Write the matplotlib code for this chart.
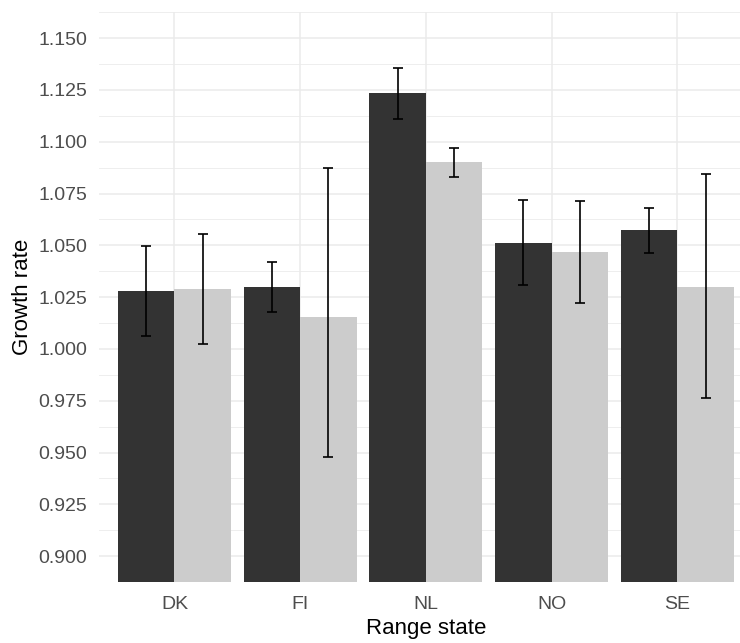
import numpy as np
import matplotlib
matplotlib.use("Agg")
import matplotlib.pyplot as plt
from matplotlib.ticker import MultipleLocator

# -----------------------------
# DATA
# -----------------------------
states = ["DK", "FI", "NL", "NO", "SE"]

rate_dark = [1.0282, 1.0298, 1.1234, 1.0513, 1.0576]
low_dark = [1.0062, 1.0177, 1.1109, 1.0310, 1.0465]
high_dark = [1.0495, 1.0418, 1.1356, 1.0720, 1.0681]

rate_light = [1.0289, 1.0156, 1.0901, 1.0466, 1.0297]
low_light = [1.0022, 0.9478, 1.0830, 1.0224, 0.9765]
high_light = [1.0557, 1.0875, 1.0968, 1.0712, 1.0846]

# -----------------------------
# FIGURE
# -----------------------------
plt.rcParams["font.family"] = ["Liberation Sans", "DejaVu Sans"]

fig = plt.figure(figsize=(7.4, 6.43), dpi=100)
ax = fig.add_axes([99 / 740, 61 / 643, 653.8 / 740, 569.7 / 643])

x = np.arange(1, len(states) + 1)
w = 0.45

ax.bar(x - w / 2, rate_dark, width=w, bottom=0, color="#333333", zorder=2)
ax.bar(x + w / 2, rate_light, width=w, bottom=0, color="#CCCCCC", zorder=2)

def add_errors(pos, mid, lo, hi):
    mid = np.array(mid)
    err = [mid - np.array(lo), np.array(hi) - mid]
    ax.errorbar(pos, mid, yerr=err, fmt="none", ecolor="black",
                elinewidth=1.2, capsize=3.6, capthick=1.2, zorder=3)

add_errors(x - w / 2, rate_dark, low_dark, high_dark)
add_errors(x + w / 2, rate_light, low_light, high_light)

# -----------------------------
# AXES (minimal theme)
# -----------------------------
ax.set_xlim(0.4, 5.6)
ax.set_ylim(0.8875, 1.1625)
ax.set_xticks(x)
ax.set_xticklabels(states)
ax.yaxis.set_major_locator(MultipleLocator(0.025))
ax.yaxis.set_minor_locator(MultipleLocator(0.0125))
ax.yaxis.set_major_formatter(plt.FormatStrFormatter("%.3f"))

ax.grid(True, which="major", color="#EBEBEB", linewidth=1.1, zorder=0)
ax.grid(True, which="minor", axis="y", color="#EBEBEB", linewidth=0.6, zorder=0)
ax.set_axisbelow(True)

for s in ax.spines.values():
    s.set_visible(False)

ax.tick_params(which="both", length=0)
ax.tick_params(axis="y", pad=8.4, labelsize=14, labelcolor="#4D4D4D")
ax.tick_params(axis="x", pad=10, labelsize=14, labelcolor="#4D4D4D")

ax.set_xlabel("Range state", fontsize=16, labelpad=4)
ax.set_ylabel("Growth rate", fontsize=16, labelpad=4)

fig.savefig("out.png", dpi=100)
